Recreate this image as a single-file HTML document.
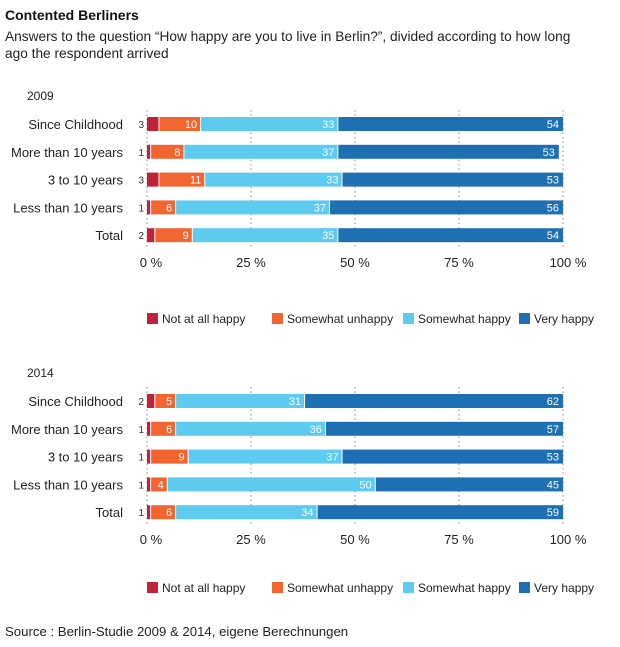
<!DOCTYPE html>
<html><head><meta charset="utf-8"><style>
body{margin:0;background:#fff;font-family:"Liberation Sans",sans-serif;color:#222}
svg text{font-family:"Liberation Sans",sans-serif}
</style></head><body>
<svg width="620" height="642" viewBox="0 0 620 642">
<text x="5" y="20" font-size="14" font-weight="bold" fill="#111">Contented Berliners</text>
<text x="5" y="41" font-size="13.7" fill="#222">Answers to the question “How happy are you to live in Berlin?”, divided according to how long</text>
<text x="5" y="58" font-size="13.7" fill="#222">ago the respondent arrived</text>
<g id="p1"></g><g id="p2"></g>
<text x="5" y="636" font-size="13.2" fill="#222">Source : Berlin-Studie 2009 &amp; 2014, eigene Berechnungen</text>
</svg>
<script>
const categories=["Since Childhood","More than 10 years","3 to 10 years","Less than 10 years","Total"];
const seriesNames=["Not at all happy","Somewhat unhappy","Somewhat happy","Very happy"];
const colors=["#c0213b","#f26430","#5ccbef","#1f6fb3"];
const ticks=[0,25,50,75,100];
const tickLabels=["0 %","25 %","50 %","75 %","100 %"];
const v2009NotAtAll=[3,1,3,1,2];
const v2009Unhappy=[10,8,11,6,9];
const v2009Happy=[33,37,33,37,35];
const v2009Very=[54,53,53,56,54];
const v2014NotAtAll=[2,1,1,1,1];
const v2014Unhappy=[5,6,9,4,6];
const v2014Happy=[31,36,37,50,34];
const v2014Very=[62,57,53,45,59];
const NS="http://www.w3.org/2000/svg";
const x0=147,x1=563;
const xs=v=>x0+(x1-x0)*v/100;
function mk(t,a,p){const e=document.createElementNS(NS,t);for(const k in a)e.setAttribute(k,a[k]);p.appendChild(e);return e;}
function panel(g,year,top,series,legendY){
  const yt=mk("text",{x:27,y:top+4,"font-size":12,fill:"#222"},g);yt.textContent=year;
  
  
  const rowY=i=>top+28+i*27.8;
  ticks.forEach((t,i)=>{
    const l=mk("line",{x1:xs(t),x2:xs(t),y1:top+14,y2:top+152,stroke:"#888","stroke-dasharray":"1.5,3"},g);
    
    
    const tx=mk("text",{x:xs(t)+(i==0?4:i==4?5:0),y:top+171,"font-size":13,"text-anchor":"middle",fill:"#222"},g);tx.textContent=tickLabels[i];
    
    
  });
  categories.forEach((c,i)=>{
    const y=rowY(i);
    const lb=mk("text",{x:123,y:y+5,"font-size":13,"text-anchor":"end",fill:"#222"},g);lb.textContent=c;
    
    
    let cum=0;
    series.forEach((s,j)=>{
      const v=s[i];const a=xs(cum),b=xs(cum+v);cum+=v;
      const r=mk("rect",{x:a,y:y-7,width:Math.max(0,b-a-(j<3?1:0)),height:14,fill:colors[j]},g);
      
      
      const t=mk("text",{"font-size":11},g);t.textContent=v;
      if(j==0){t.setAttribute("x",a-3);t.setAttribute("y",y+4);t.setAttribute("text-anchor","end");t.setAttribute("fill","#333");t.setAttribute("font-size","10");}
      else{t.setAttribute("x",b-4);t.setAttribute("y",y+4);t.setAttribute("text-anchor","end");t.setAttribute("fill","#fff");}
      
      
    });
  });
  const lx=[147,272,403,519];
  seriesNames.forEach((n,j)=>{
    const r=mk("rect",{x:lx[j],y:legendY-6,width:11,height:11,fill:colors[j]},g);
    
    
    const t=mk("text",{x:lx[j]+15,y:legendY+4,"font-size":12,fill:"#222"},g);t.textContent=n;
    
    
  });
}
panel(document.getElementById("p1"),"2009",96,[v2009NotAtAll,v2009Unhappy,v2009Happy,v2009Very],319);
panel(document.getElementById("p2"),"2014",373,[v2014NotAtAll,v2014Unhappy,v2014Happy,v2014Very],588);
</script>
</body></html>
